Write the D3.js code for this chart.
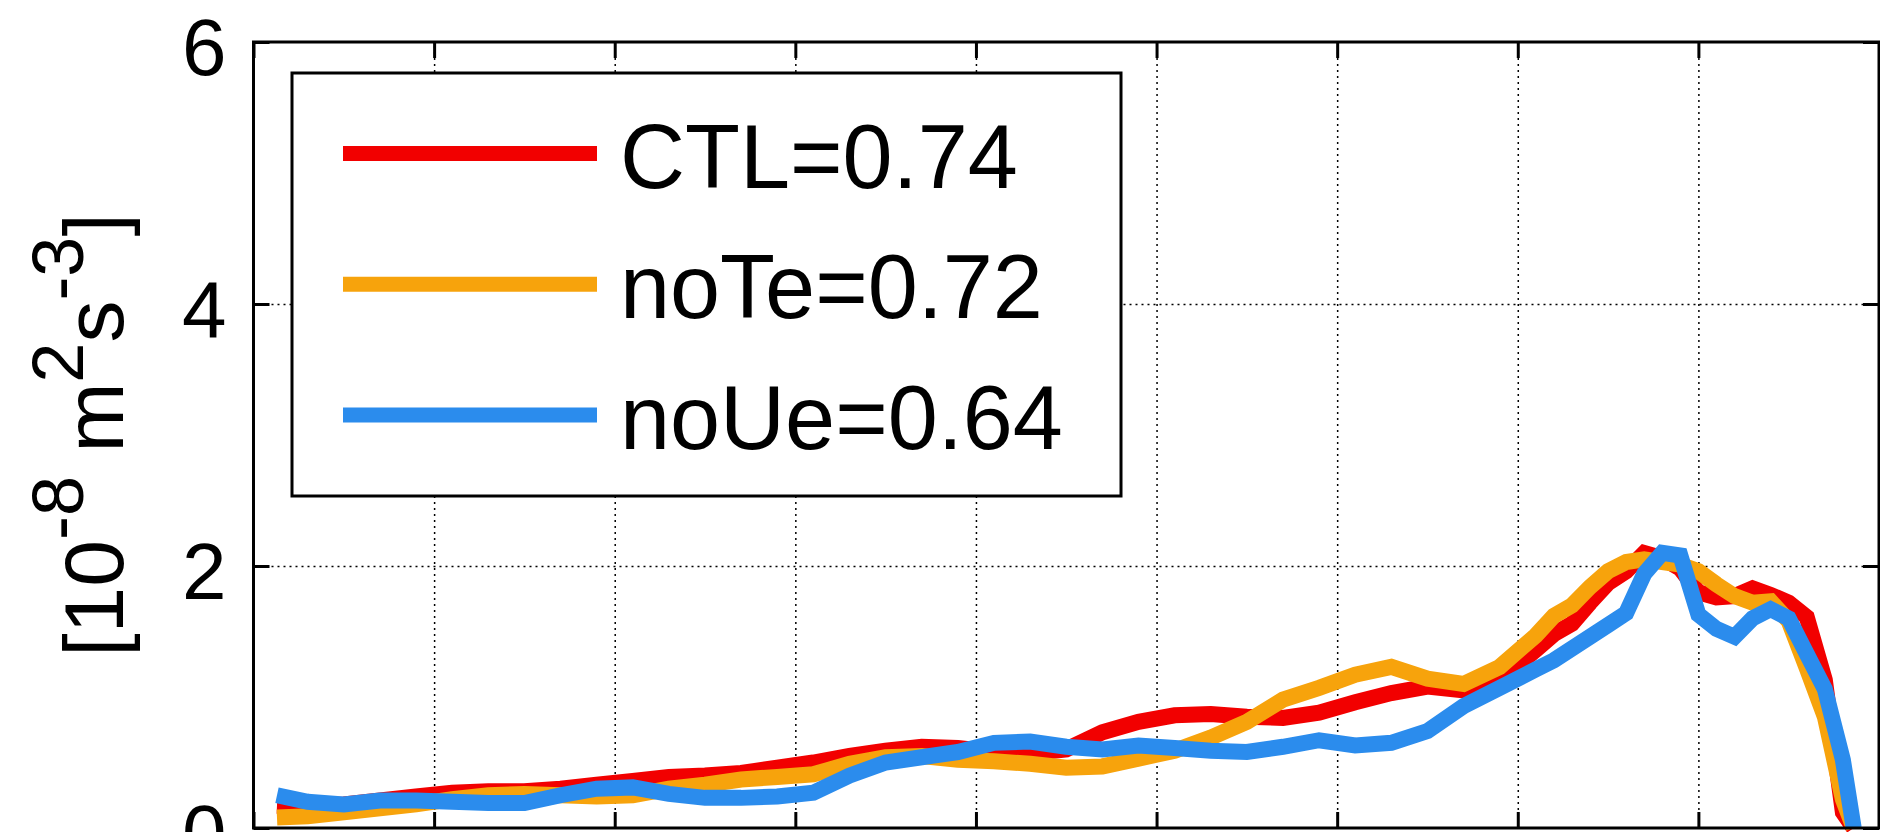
<!DOCTYPE html>
<meta charset="utf-8">
<style>
body { margin: 0; background: #fff; }
svg { display: block; }
text { font-family: "Liberation Sans", Arial, Helvetica, sans-serif; fill: #000; }
.frame { fill: none; stroke: #000; stroke-width: 3; }
.grid line { stroke: #000; stroke-width: 1.5; stroke-dasharray: 2,4; }
.grid path { display: none; }
.tickaxis path { display: none; }
.tickaxis line { stroke: #000; stroke-width: 3; }
.tickaxis text { font-size: 80px; }
</style>
<svg width="1880" height="832"></svg>
<script src="https://d3js.org/d3.v7.min.js"></script>
<script>

// x positions of samples (axis has 9 equal intervals, labels fall outside the picture)
var xs = [1.3, 3, 5, 7, 9, 11, 13, 15, 17, 19, 21, 23, 25, 27, 29, 31, 33, 35, 37, 39,
          41, 43, 45, 47, 49, 51, 53, 55, 57, 59, 61, 63, 65, 67, 69, 71,
          72, 73, 74, 75, 76, 77, 78, 79, 80, 81, 82, 83, 84, 85, 86, 87, 88, 88.6];

var ctl  = [0.17, 0.16, 0.18, 0.21, 0.24, 0.27, 0.28, 0.28, 0.30, 0.33, 0.36, 0.39, 0.40, 0.42, 0.46, 0.50, 0.55, 0.59, 0.62, 0.61,
            0.58, 0.57, 0.60, 0.73, 0.81, 0.86, 0.87, 0.85, 0.84, 0.88, 0.96, 1.03, 1.08, 1.05, 1.13, 1.36,
            1.48, 1.56, 1.72, 1.87, 1.96, 2.10, 2.06, 1.98, 1.80, 1.76, 1.77, 1.83, 1.78, 1.72, 1.61, 1.13, 0.12, 0];

var noTe = [0.08, 0.09, 0.12, 0.15, 0.18, 0.22, 0.25, 0.26, 0.25, 0.24, 0.25, 0.30, 0.33, 0.37, 0.39, 0.41, 0.49, 0.54, 0.55, 0.52,
            0.51, 0.49, 0.46, 0.47, 0.53, 0.59, 0.69, 0.81, 0.98, 1.07, 1.17, 1.23, 1.14, 1.10, 1.23, 1.47,
            1.62, 1.70, 1.84, 1.96, 2.03, 2.05, 2.03, 2.01, 1.96, 1.86, 1.77, 1.72, 1.73, 1.58, 1.22, 0.85, 0.22, 0];

var noUe = [0.25, 0.20, 0.18, 0.21, 0.21, 0.20, 0.19, 0.19, 0.25, 0.30, 0.31, 0.26, 0.23, 0.23, 0.24, 0.27, 0.40, 0.50, 0.54, 0.58,
            0.65, 0.66, 0.62, 0.60, 0.63, 0.61, 0.59, 0.58, 0.62, 0.67, 0.63, 0.65, 0.74, 0.93, 1.07, 1.21,
            1.28, 1.37, 1.46, 1.55, 1.64, 1.94, 2.10, 2.08, 1.63, 1.52, 1.46, 1.60, 1.67, 1.60, 1.33, 1.06, 0.52, 0];

var seriesNames = ["CTL=0.74", "noTe=0.72", "noUe=0.64"];
var seriesColors = ["#f20000", "#f7a30c", "#2b8ced"];
var seriesValues = [ctl, noTe, noUe];

var xTicks = [0, 10, 20, 30, 40, 50, 60, 70, 80, 90];
var yTicks = [0, 2, 4, 6];

var svg = d3.select("svg"),
    margin = {top: 42, right: 1, bottom: 4, left: 253.5},
    width = +svg.attr("width") - margin.left - margin.right,
    height = +svg.attr("height") - margin.top - margin.bottom;

var x = d3.scaleLinear().domain([0, 90]).range([0, width]);
var y = d3.scaleLinear().domain([0, 6]).range([height, 0]);

var g = svg.append("g")
    .attr("transform", "translate(" + margin.left + "," + margin.top + ")");

// dotted grid
g.append("g").attr("class", "grid")
    .attr("transform", "translate(0," + height + ")")
    .call(d3.axisBottom(x).tickValues(xTicks.slice(1, -1)).tickSize(-height).tickFormat(""));
g.append("g").attr("class", "grid")
    .call(d3.axisLeft(y).tickValues([2, 4]).tickSize(-width).tickFormat(""));

// inward ticks on all sides
var tl = 16;
g.append("g").attr("class", "tickaxis")
    .attr("transform", "translate(0," + height + ")")
    .call(d3.axisBottom(x).tickValues(xTicks).tickSize(-tl).tickFormat(""));
g.append("g").attr("class", "tickaxis")
    .call(d3.axisTop(x).tickValues(xTicks).tickSize(-tl).tickFormat(""));
g.append("g").attr("class", "tickaxis")
    .attr("transform", "translate(" + width + ",0)")
    .call(d3.axisRight(y).tickValues(yTicks).tickSize(-tl).tickFormat(""));
var yAxis = g.append("g").attr("class", "tickaxis")
    .call(d3.axisLeft(y).tickValues(yTicks).tickSize(-tl).tickPadding(27).tickFormat(d3.format("d")));
yAxis.selectAll("text").attr("dy", "0.4em");

// curves
var line = d3.line()
    .x(function(d) { return x(d[0]); })
    .y(function(d) { return y(d[1]); });

seriesValues.forEach(function(vals, i) {
  var pts = xs.map(function(v, j) { return [v, vals[j]]; });
  g.append("path")
      .datum(pts)
      .attr("d", line)
      .attr("fill", "none")
      .attr("stroke", seriesColors[i])
      .attr("stroke-width", 16)
      .attr("stroke-linejoin", "miter")
      .attr("stroke-miterlimit", 3);
});

// legend
var lg = svg.append("g");
lg.append("rect")
    .attr("x", 292).attr("y", 73)
    .attr("width", 829).attr("height", 423)
    .attr("fill", "#fff").attr("stroke", "#000").attr("stroke-width", 3);

seriesNames.forEach(function(name, i) {
  var ly = 153.5 + i * 130.8;
  lg.append("line")
      .attr("x1", 343).attr("x2", 597)
      .attr("y1", ly).attr("y2", ly)
      .attr("stroke", seriesColors[i])
      .attr("stroke-width", 15);
  lg.append("text")
      .attr("x", 620).attr("y", ly + 34)
      .style("font-size", "90px")
      .text(name);
});

// frame on top
g.append("rect").attr("class", "frame")
    .attr("width", width).attr("height", height);

// y label
var yl = svg.append("text")
    .attr("transform", "translate(123," + (margin.top + height / 2) + ") rotate(-90)")
    .attr("text-anchor", "middle")
    .style("font-size", "84px");
var sup = 40;
yl.append("tspan").text("[10");
yl.append("tspan").attr("dy", -sup).style("font-size", "72px").text("-8");
yl.append("tspan").attr("dy", sup).text(" m");
yl.append("tspan").attr("dy", -sup).style("font-size", "72px").text("2");
yl.append("tspan").attr("dy", sup).text("s");
yl.append("tspan").attr("dy", -sup).style("font-size", "72px").text("-3");
yl.append("tspan").attr("dy", sup).text("]");

</script>
